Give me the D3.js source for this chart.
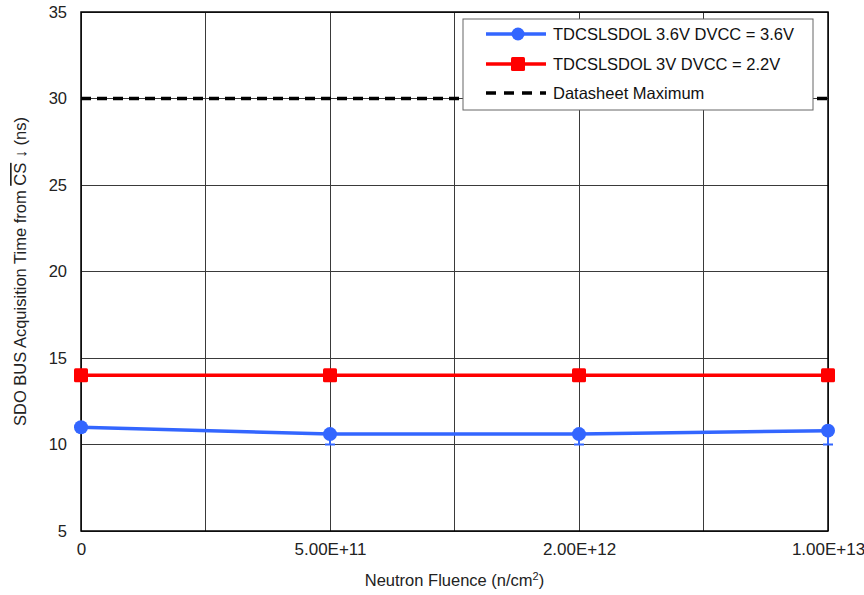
<!DOCTYPE html>
<html>
<head>
<meta charset="utf-8">
<script src="https://cdn.jsdelivr.net/npm/d3@7"></script>
<style>
  body { margin: 0; background: #fff; }
  svg { display: block; font-family: "Liberation Sans", Arial, sans-serif; }
</style>
</head>
<body>
<svg id="chart" width="864" height="595"></svg>
<script>
// ---- data ----
const categories = ["0", "5.00E+11", "2.00E+12", "1.00E+13"];
const blueValues = [11.0, 10.6, 10.6, 10.8];
const blueErrLow = [null, 10.0, 10.0, 10.0];
const redValues = [14.0, 14.0, 14.0, 14.0];
const datasheetMax = [30, 30, 30, 30];
const yTicks = [5, 10, 15, 20, 25, 30, 35];
const seriesNames = ["TDCSLSDOL 3.6V DVCC = 3.6V", "TDCSLSDOL 3V DVCC = 2.2V", "Datasheet Maximum"];

// ---- layout ----
const W = 864, H = 595;
const margin = { left: 81, top: 12, right: 36, bottom: 64 };
const iw = W - margin.left - margin.right;
const ih = H - margin.top - margin.bottom;
const FF = "Liberation Sans, Arial, sans-serif";

const svg = d3.select("#chart");
const g = svg.append("g").attr("transform", `translate(${margin.left},${margin.top})`);

const x = d3.scaleLinear().domain([0, categories.length - 1]).range([0, iw]);
const y = d3.scaleLinear().domain([5, 35]).range([ih, 0]);

// gridlines
const vGrid = d3.range(0, categories.length - 1 + 0.001, 0.5);
g.append("g").selectAll("line").data(vGrid).join("line")
  .attr("x1", d => x(d)).attr("x2", d => x(d))
  .attr("y1", 0).attr("y2", ih)
  .attr("stroke", "#3a3a3a").attr("stroke-width", 1).attr("shape-rendering", "crispEdges");
g.append("g").selectAll("line").data(yTicks).join("line")
  .attr("x1", 0).attr("x2", iw)
  .attr("y1", d => y(d)).attr("y2", d => y(d))
  .attr("stroke", "#3a3a3a").attr("stroke-width", 1).attr("shape-rendering", "crispEdges");

// frame
g.append("rect").attr("x", 0).attr("y", 0).attr("width", iw).attr("height", ih)
  .attr("fill", "none").attr("stroke", "#000").attr("stroke-width", 1.5);

// axes
const yAxis = d3.axisLeft(y).tickValues(yTicks).tickSize(0).tickPadding(14);
const ya = g.append("g").call(yAxis);
ya.attr("font-size", 16.5).attr("font-family", FF);
ya.select(".domain").remove();
ya.selectAll("text").attr("fill", "#222");

const xAxis = d3.axisBottom(x).tickValues(d3.range(categories.length)).tickFormat(i => categories[i]).tickSize(0).tickPadding(12);
const xa = g.append("g").attr("transform", `translate(0,${ih})`).call(xAxis);
xa.attr("font-size", 17).attr("font-family", FF);
xa.select(".domain").remove();
xa.selectAll("text").attr("fill", "#222");

// datasheet max
const line = d3.line().x((d, i) => x(i)).y(d => y(d));
g.append("path").datum(datasheetMax).attr("d", line)
  .attr("fill", "none").attr("stroke", "#000").attr("stroke-width", 3.5)
  .attr("stroke-dasharray", "10,6");

// red series
g.append("path").datum(redValues).attr("d", line)
  .attr("fill", "none").attr("stroke", "#ff0000").attr("stroke-width", 3.5);
g.append("g").selectAll("rect").data(redValues).join("rect")
  .attr("x", (d, i) => x(i) - 7).attr("y", d => y(d) - 7)
  .attr("width", 14).attr("height", 14).attr("rx", 1.5)
  .attr("fill", "#ff0000");

// blue error bars
const errData = blueErrLow.map((lo, i) => ({ i, lo, v: blueValues[i] })).filter(d => d.lo != null);
const eg = g.append("g");
eg.selectAll("line.v").data(errData).join("line").attr("class", "v")
  .attr("x1", d => x(d.i)).attr("x2", d => x(d.i))
  .attr("y1", d => y(d.v)).attr("y2", d => y(d.lo))
  .attr("stroke", "#3366ff").attr("stroke-width", 2);
eg.selectAll("line.c").data(errData).join("line").attr("class", "c")
  .attr("x1", d => x(d.i) - 5).attr("x2", d => x(d.i) + 5)
  .attr("y1", d => y(d.lo)).attr("y2", d => y(d.lo))
  .attr("stroke", "#3366ff").attr("stroke-width", 2);

// blue series
g.append("path").datum(blueValues).attr("d", line)
  .attr("fill", "none").attr("stroke", "#3366ff").attr("stroke-width", 3.5);
g.append("g").selectAll("circle").data(blueValues).join("circle")
  .attr("cx", (d, i) => x(i)).attr("cy", d => y(d)).attr("r", 7)
  .attr("fill", "#3366ff");

// axis titles
svg.append("text")
  .attr("x", margin.left + iw / 2).attr("y", 586)
  .attr("text-anchor", "middle").attr("font-size", 16.5).attr("fill", "#222")
  .call(t => {
    t.append("tspan").text("Neutron Fluence (n/cm");
    t.append("tspan").attr("font-size", 11).attr("dy", -6).text("2");
    t.append("tspan").attr("dy", 6).text(")");
  });

svg.append("text")
  .attr("transform", `translate(26,${margin.top + ih / 2}) rotate(-90)`)
  .attr("text-anchor", "middle").attr("font-size", 16.5).attr("fill", "#222")
  .call(t => {
    t.append("tspan").text("SDO BUS Acquisition Time from ");
    t.append("tspan").attr("text-decoration", "overline").text("CS");
    t.append("tspan").text(" \u2193 (ns)");
  });

// legend
const lg = svg.append("g").attr("transform", "translate(463,19)");
lg.append("rect").attr("x", 0).attr("y", 0).attr("width", 350).attr("height", 91)
  .attr("fill", "#fff").attr("stroke", "#666").attr("stroke-width", 1);
const rows = [15, 45, 74];
// blue
lg.append("line").attr("x1", 23).attr("x2", 83).attr("y1", rows[0]).attr("y2", rows[0])
  .attr("stroke", "#3366ff").attr("stroke-width", 3.5);
lg.append("circle").attr("cx", 55).attr("cy", rows[0]).attr("r", 6.5).attr("fill", "#3366ff");
// red
lg.append("line").attr("x1", 23).attr("x2", 83).attr("y1", rows[1]).attr("y2", rows[1])
  .attr("stroke", "#ff0000").attr("stroke-width", 3.5);
lg.append("rect").attr("x", 48).attr("y", rows[1] - 7).attr("width", 14).attr("height", 14).attr("rx", 1.5).attr("fill", "#ff0000");
// dashed
lg.append("line").attr("x1", 23).attr("x2", 83).attr("y1", rows[2]).attr("y2", rows[2])
  .attr("stroke", "#000").attr("stroke-width", 3.5).attr("stroke-dasharray", "10,8");
lg.selectAll("text.l").data(seriesNames).join("text").attr("class", "l")
  .attr("x", 90).attr("y", (d, i) => rows[i] + 6)
  .attr("font-size", 16.5).attr("fill", "#111").text(d => d);
</script>
</body>
</html>
